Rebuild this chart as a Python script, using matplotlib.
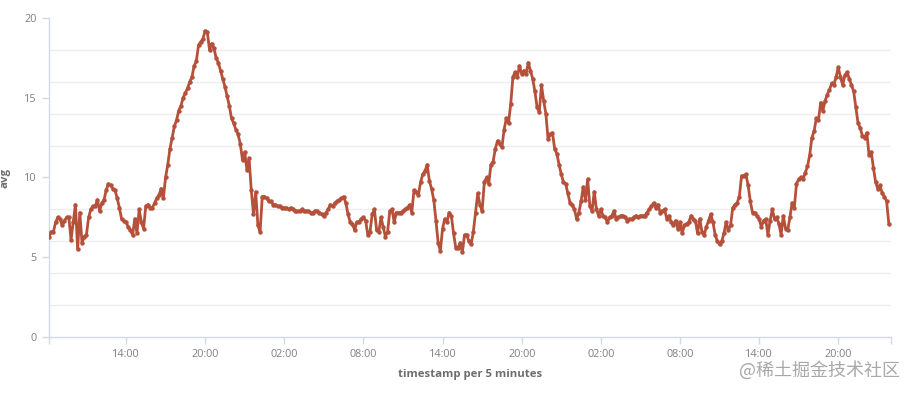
import pandas as pd
import matplotlib
matplotlib.use("Agg")
import matplotlib.pyplot as plt
import matplotlib.dates as mdates

# avg per 10 minutes (day 1 starts at 08:10)
day1 = [
    6.3, 6.6, 6.6, 7.2, 7.5,
    7.4, 7.0, 7.3, 7.5, 7.5, 6.1,
    7.2, 8.3, 5.5, 7.8, 5.9, 6.3,
    6.4, 7.5, 8.0, 8.2, 8.2, 8.6,
    7.9, 8.4, 8.6, 9.2, 9.6, 9.5,
    9.3, 9.2, 8.7, 8.1, 7.4, 7.3,
    7.2, 6.9, 6.7, 6.4, 7.4, 6.5,
    8.0, 7.2, 6.8, 8.2, 8.3, 8.1,
    8.1, 8.4, 8.7, 8.9, 9.3, 8.7,
    10.0, 10.8, 11.8, 12.5, 13.2, 13.6,
    14.2, 14.5, 15.0, 15.3, 15.6, 16.0,
    16.3, 17.0, 17.3, 18.3, 18.5, 18.7,
    19.2, 19.1, 18.0, 18.4, 18.1, 17.5,
    17.2, 16.7, 16.2, 15.7, 15.1, 14.5,
    13.7, 13.4, 13.0, 12.7, 12.1, 11.1,
    11.6, 10.5, 11.2, 9.2, 7.7, 9.1,
]
day2 = [
    7.0, 6.6, 8.8, 8.8, 8.7, 8.5,
    8.5, 8.3, 8.3, 8.2, 8.2, 8.1,
    8.1, 8.1, 8.0, 8.1, 8.0, 7.9,
    7.9, 7.9, 8.0, 7.9, 7.9, 7.9,
    7.8, 7.8, 7.9, 7.9, 7.8, 7.7,
    7.6, 7.8, 8.0, 8.3, 8.2, 8.4,
    8.5, 8.6, 8.7, 8.8, 8.4, 7.7,
    7.2, 7.1, 6.7, 7.2, 7.2, 7.4,
    7.5, 7.3, 6.4, 6.6, 7.7, 8.0,
    6.7, 6.6, 7.5, 6.9, 6.3, 6.6,
    7.9, 8.0, 7.2, 7.8, 7.8, 7.8,
    7.9, 8.0, 8.1, 8.3, 7.8, 9.2,
    9.1, 8.9, 9.7, 10.2, 10.4, 10.8,
    9.8, 9.3, 8.6, 7.3, 5.9, 5.4,
    6.8, 7.4, 7.2, 7.8, 7.6, 6.5,
    5.6, 5.6, 5.9, 5.3, 6.4, 6.4,
    6.0, 5.8, 6.6, 7.8, 9.0, 8.3,
    7.9, 9.7, 10.0, 9.6, 10.8, 11.0,
    11.8, 12.3, 12.1, 11.9, 13.0, 13.7,
    13.4, 14.6, 16.3, 16.6, 16.3, 17.0,
    16.5, 16.7, 16.5, 17.2, 16.7, 16.2,
    15.4, 14.4, 14.1, 15.8, 14.8, 14.0,
    12.4, 12.7, 12.8, 11.8, 11.5, 10.8,
    10.2, 9.7, 9.6, 9.0, 8.4, 8.3,
]
day3 = [
    8.0, 7.4, 7.8, 8.5, 9.4, 8.6,
    9.9, 8.2, 7.9, 9.1, 8.0, 7.6,
    8.0, 7.6, 7.5, 7.2, 7.5, 7.6,
    7.9, 7.4, 7.5, 7.6, 7.6, 7.5,
    7.3, 7.4, 7.4, 7.5, 7.6, 7.5,
    7.6, 7.6, 7.6, 7.8, 8.0, 8.2,
    8.4, 8.1, 8.3, 7.8, 7.9, 8.0,
    7.4, 7.6, 7.2, 7.0, 7.3, 6.8,
    7.2, 6.5, 7.0, 7.1, 7.2, 7.6,
    7.4, 7.3, 6.5, 7.4, 6.6, 6.4,
    6.9, 7.3, 7.7, 7.2, 6.4, 6.0,
    5.8, 6.0, 6.5, 7.2, 6.7, 7.0,
    8.1, 8.3, 8.4, 8.8, 10.1, 10.1,
    10.2, 9.5, 8.5, 7.8, 7.8, 7.6,
    7.4, 6.9, 7.3, 7.4, 6.4, 7.3,
    8.0, 7.4, 7.5, 7.1, 6.4, 7.6,
    6.8, 6.7, 7.5, 8.4, 8.1, 9.6,
    9.9, 10.0, 9.9, 10.3, 10.7, 11.4,
    12.5, 12.9, 13.7, 13.6, 14.7, 14.2,
    14.8, 15.2, 15.5, 15.9, 15.8, 16.3,
    16.9, 16.3, 15.8, 16.4, 16.6, 16.2,
    15.8, 15.4, 14.4, 13.4, 13.1, 12.6,
    12.5, 12.8, 11.4, 11.6, 10.6, 9.7,
    9.3, 9.5, 9.0, 8.8, 8.5, 7.1,
]
values = day1 + day2 + day3
start = "2021-06-01 08:10"
end = "2021-06-04 00:00"

times = pd.date_range(start, periods=len(values), freq="10min")

plt.rcParams['font.family'] = ['Open Sans', 'DejaVu Sans']

fig = plt.figure(figsize=(9.15, 3.94), dpi=100)
ax = fig.add_axes([0.0536, 0.1447, 0.9202, 0.8096])

ax.plot(times, values, color='#b5503a', linewidth=2.0, marker='o', markersize=3.2,
        markeredgewidth=0, zorder=3)

ax.set_xlim(pd.Timestamp(start), pd.Timestamp(end))
ax.set_ylim(0, 20)

ax.set_yticks([0, 5, 10, 15, 20])
ax.set_yticks(range(2, 21, 2), minor=True)
ax.grid(which='minor', axis='y', color='#eeeeee', linewidth=1)
ax.tick_params(axis='y', which='minor', length=0)

ax.xaxis.set_major_locator(mdates.HourLocator(byhour=[2, 8, 14, 20]))
ax.xaxis.set_major_formatter(mdates.DateFormatter('%H:%M'))
ax.set_xticks([mdates.date2num(pd.Timestamp(start)), mdates.date2num(pd.Timestamp(end))], minor=True)
ax.tick_params(axis='x', which='minor', length=5, color='#d3dae6', width=1)

ax.tick_params(axis='both', which='major', length=5, color='#d3dae6', width=1,
               labelcolor='#808080', labelsize=7.8, pad=4)

for side in ['top', 'right']:
    ax.spines[side].set_visible(False)
for side in ['left', 'bottom']:
    ax.spines[side].set_color('#d3dae6')
    ax.spines[side].set_linewidth(1)

ax.set_xlabel('timestamp per 5 minutes', fontsize=8.2, fontweight='bold', color='#6d6d6d', labelpad=6)
ax.set_ylabel('avg', fontsize=8.2, fontweight='bold', color='#6d6d6d')
ax.yaxis.set_label_coords(-0.046, 0.5)

fig.text(0.984, 0.06, '@稀土掘金技术社区', ha='right', va='center', fontsize=13,
         color='#a8a8a8', family=['Noto Sans CJK SC', 'DejaVu Sans'])

fig.savefig('out.png', dpi=100)
